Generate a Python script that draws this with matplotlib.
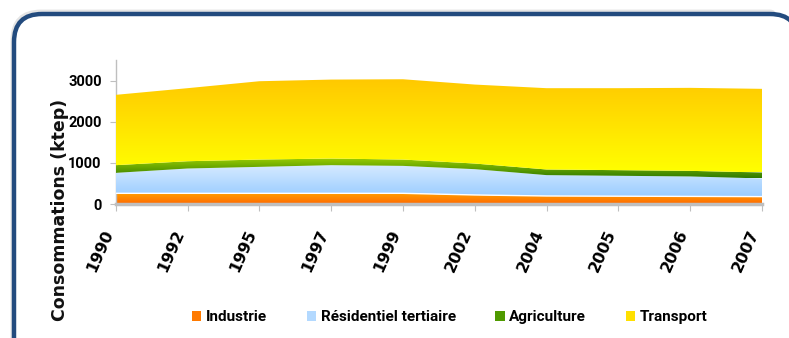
import numpy as np
import matplotlib
matplotlib.use("Agg")
import matplotlib.pyplot as plt
from matplotlib.colors import LinearSegmentedColormap
from matplotlib.patches import PathPatch, FancyBboxPatch, Patch
from matplotlib.transforms import IdentityTransform

# data (ktep)
years = ["1990", "1992", "1995", "1997", "1999", "2002", "2004", "2005", "2006", "2007"]
industrie = [260, 260, 260, 260, 260, 220, 195, 190, 185, 180]
residentiel = [497, 603, 643, 684, 667, 627, 507, 496, 485, 441]
agriculture = [187, 177, 178, 161, 154, 137, 137, 137, 136, 145]
transport = [1709, 1775, 1903, 1919, 1951, 1919, 1976, 1992, 2017, 2033]

series_names = ["Industrie", "Résidentiel tertiaire", "Agriculture", "Transport"]
# (top colour, bottom colour) of each vertical gradient
gradients = [
    ("#FF9E00", "#FF6A00"),
    ("#D6EAFF", "#99CCFF"),
    ("#9ACD00", "#2F7A00"),
    ("#FFC800", "#FFFF00"),
]
legend_colors = ["#FF7A00", "#B3D9FF", "#4F9A00", "#FFE000"]

NARROW = ["Roboto", "DejaVu Sans"]


def gradient_area(ax, x, y0, y1, c_top, c_bot, z):
    coll = ax.fill_between(x, y0, y1, facecolor="none", edgecolor="none")
    path = coll.get_paths()[0]
    clip = PathPatch(path, transform=ax.transData, facecolor="none", edgecolor="none")
    ax.add_patch(clip)
    cmap = LinearSegmentedColormap.from_list("g", [c_bot, c_top])
    grad = np.linspace(0, 1, 256).reshape(-1, 1)
    im = ax.imshow(grad, cmap=cmap, aspect="auto", origin="lower",
                   extent=[x[0], x[-1], y0.min(), y1.max()], zorder=z,
                   interpolation="bilinear")
    im.set_clip_path(clip)


fig = plt.figure(figsize=(7.89, 3.38), dpi=100)
fig.patch.set_facecolor("white")

# rounded dark blue frame with a faint shadow
shadow = FancyBboxPatch((13, -30), 785, 356, boxstyle="round,pad=0,rounding_size=28",
                        transform=IdentityTransform(), facecolor="none",
                        edgecolor="#E4E4E4", linewidth=3.5, zorder=0)
frame = FancyBboxPatch((14, -30), 784, 354, boxstyle="round,pad=0,rounding_size=28",
                       transform=IdentityTransform(), facecolor="white",
                       edgecolor="#234B7E", linewidth=3.2, zorder=1)
fig.patches.extend([shadow, frame])

ax = fig.add_axes([115.7 / 789, 0.3964, (762 - 115.7) / 789, 0.4261])
ax.set_facecolor("none")
ax.set_zorder(2)

x = np.arange(len(years))
data = [industrie, residentiel, agriculture, transport]
bottom = np.zeros(len(years))
for i, (vals, (ct, cb)) in enumerate(zip(data, gradients)):
    top = bottom + np.array(vals, dtype=float)
    gradient_area(ax, x, bottom, top, ct, cb, z=2 + i)
    bottom = top

# thin white line between industrie and residentiel
ax.plot(x, np.array(industrie), color="white", lw=1.0, zorder=10)

ax.set_xlim(0, len(years) - 1)
ax.set_ylim(0, 3500)

for s in ["top", "right"]:
    ax.spines[s].set_visible(False)
ax.spines["left"].set_color("#BFBFBF")
ax.spines["left"].set_linewidth(1.0)
ax.spines["bottom"].set_color("#BFBFBF")
ax.spines["bottom"].set_linewidth(2.5)
ax.spines["bottom"].set_zorder(11)

ax.set_yticks([0, 1000, 2000, 3000])
ax.set_yticklabels(["0", "1000", "2000", "3000"], fontfamily=NARROW,
                   fontweight="bold", fontsize=10.5)
ax.tick_params(axis="y", length=4, color="#BFBFBF", pad=6)

ax.set_xticks(x)
ax.set_xticklabels(years, rotation=66, ha="right", va="top", fontweight="bold",
                   fontsize=11.5)
ax.tick_params(axis="x", length=5, color="#BFBFBF", pad=12, direction="out")

fig.text(0.076, 0.380, "Consommations (ktep)", rotation=90, ha="center", va="center",
         fontsize=12.5, fontweight="bold", color="#111111")

handles = [Patch(facecolor=c, edgecolor="none") for c in legend_colors]
fig.legend(handles, series_names, loc="center", bbox_to_anchor=(0.570, 0.062),
           ncol=4, frameon=False, handlelength=0.6, handleheight=0.6,
           handletextpad=0.3, columnspacing=2.6,
           prop={"family": NARROW, "weight": "bold", "size": 11})

fig.savefig("out.png", dpi=100)
